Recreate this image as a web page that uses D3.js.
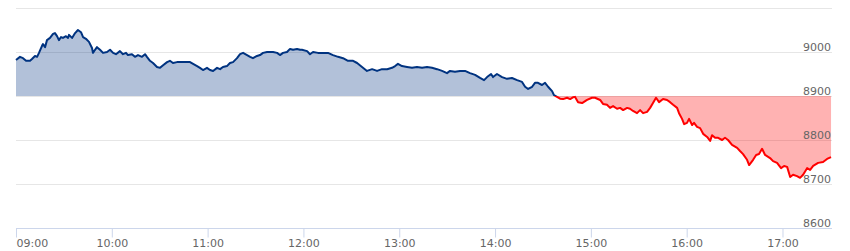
<!doctype html>
<html>
    <head>
        <script src="https://d3js.org/d3.v7.min.js"></script>
        <style>
            body { margin: 0; background: #fff; }
            svg { display: block; }
            .tick text { fill: #666; font-size: 11px; font-family: "DejaVu Sans", Verdana, sans-serif; }
        </style>
    </head>
    <body>
        <div id="viz">
            <svg style="width:850px;height:251px;"></svg>
        </div>

        <script>
            // minutes after 09:00 and index level
            var minutes = [0,2.5,4.4,6.3,8.8,10,11.9,13.2,14.4,16.3,16.9,18.2,19.4,21.3,23.2,24.4,25.7,26.9,28.2,29.4,
                31.3,32.6,33.2,35.1,37,38.8,40.7,42,43.8,45.7,47.6,48.2,49.5,50.7,52.6,54.5,57,58.9,60.8,62.6,
                65.1,67,68.9,70.1,72.6,74.5,76.4,78.9,80.8,82,83.9,85.8,88.3,90.2,92.1,94.6,96.4,98.3,100.8,102.7,
                104.6,107.1,109,110.9,113.4,115.2,117.1,119.6,121.5,123.4,125.9,127.8,129.6,132.1,134,135.9,138.4,140.3,142.2,144.7,
                146.6,148.4,150.9,152.8,154.7,157.2,159.1,161,163.5,165.3,167.2,169.7,171.6,173.5,176,177.9,179.1,182.3,184.1,186,
                189.1,192.3,195.4,198.5,201.7,204.8,207.9,211.1,213.6,216.7,219.8,223,226.1,229.2,232.4,235.5,237.4,239.2,241.7,244.9,
                248,251.1,254.3,257.4,260.5,263.7,266.8,269.9,271.8,274.9,278.1,281.2,284.3,287.5,290.6,293.1,295,297.5,298.7,301.2,
                304.4,307.5,310.6,313.8,316.9,318.8,320.7,323.2,325,326.9,329.4,331.3,333.2,335.7,336.9,338.8,340.7,342.6,345.1,347,
                348.8,350.1,352,354.5,357.6,360.7,362.6,365.8,367.6,370.1,372,373.9,376.4,378.3,380.2,382.7,384.5,386.4,388.9,390.8,
                392.7,395.2,397.1,398.9,400.8,402.7,405.2,407.7,409.6,411.5,414,415.2,417.1,418.4,420.2,421.5,423.4,424.6,426.5,428.4,
                430.3,432.8,434.7,435.9,437.8,439.7,442.2,444,445.9,448.4,451.6,453.4,455.3,457.8,459.1,461.6,463.5,465.3,467.2,469.1,
                472.2,474.1,476.6,479.1,481,482.9,484.8,486.6,489.1,491,492.9,495.4,497.3,499.2,502.3,505.4,507.9,510.4];
            var values = [8982,8989,8986,8980,8980,8984,8991,8989,8998,9014,9018,9011,9027,9032,9041,9043,9036,9027,9034,9032,
                9036,9032,9039,9032,9043,9050,9045,9034,9030,9023,9009,8998,9005,9011,9005,8998,9000,9005,8998,8995,
                9002,8995,8998,8993,8995,8989,8993,8989,8995,8989,8980,8975,8966,8964,8970,8977,8980,8975,8977,8977,
                8977,8977,8977,8973,8968,8964,8959,8964,8959,8957,8964,8961,8966,8968,8975,8977,8986,8995,8998,8993,
                8989,8986,8991,8993,8998,9000,9000,9000,8998,8993,8998,9000,9007,9005,9007,9005,9005,9002,8995,9000,
                8998,8998,8998,8993,8989,8986,8980,8980,8975,8966,8957,8961,8957,8961,8961,8964,8968,8973,8968,8966,
                8964,8966,8964,8966,8964,8961,8957,8952,8957,8955,8957,8957,8952,8948,8941,8936,8943,8950,8943,8950,
                8943,8939,8941,8936,8932,8921,8916,8921,8930,8930,8925,8930,8921,8911,8902,8898,8894,8893,8896,8893,
                8897,8898,8886,8884,8891,8896,8896,8891,8882,8880,8873,8877,8871,8873,8868,8873,8871,8866,8861,8868,
                8861,8864,8873,8884,8896,8886,8893,8891,8886,8880,8873,8861,8848,8836,8839,8848,8834,8839,8830,8827,
                8814,8807,8798,8811,8805,8805,8800,8805,8800,8789,8782,8775,8768,8755,8743,8755,8766,8768,8780,8766,
                8759,8752,8748,8736,8741,8739,8716,8721,8718,8714,8721,8736,8732,8741,8748,8750,8757,8761];

            var yTicks = [8600, 8700, 8800, 8900, 9000];
            var threshold = 8900;

            var t0 = new Date(2020, 0, 1, 9, 0);
            var data = minutes.map(function(m, i) {
                return { t: new Date(t0.getTime() + m * 60000), v: values[i] };
            });

            var svg = d3.select('svg');
            var plotLeft = 16, plotRight = 832, plotTop = 8, plotBottom = 228;

            var xScale = d3.scaleTime()
                .domain([t0, new Date(t0.getTime() + 511 * 60000)])
                .range([plotLeft, plotRight]);
            var yScale = d3.scaleLinear().domain([8600, 9100]).range([plotBottom, plotTop]);

            // grid lines
            svg.append('g').selectAll('line.grid')
                .data([8600, 8700, 8800, 8900, 9000, 9100])
                .enter()
                .append('line')
                    .attr('class', 'grid')
                    .attr('x1', plotLeft).attr('x2', plotRight)
                    .attr('y1', d => yScale(d) + 0.5).attr('y2', d => yScale(d) + 0.5)
                    .style('stroke', '#e6e6e6');

            // clip regions above / below threshold
            var defs = svg.append('defs');
            defs.append('clipPath').attr('id', 'above').append('rect')
                .attr('x', 0).attr('y', 0).attr('width', 850).attr('height', yScale(threshold));
            defs.append('clipPath').attr('id', 'below').append('rect')
                .attr('x', 0).attr('y', yScale(threshold)).attr('width', 850).attr('height', 251);

            var area = d3.area()
                .x(d => xScale(d.t))
                .y0(yScale(threshold))
                .y1(d => yScale(d.v));
            var line = d3.line()
                .x(d => xScale(d.t))
                .y(d => yScale(d.v));

            [['above', '#003380'], ['below', '#ff0000']].forEach(function(z) {
                var g = svg.append('g').attr('clip-path', 'url(#' + z[0] + ')');
                g.append('path').datum(data)
                    .attr('d', area)
                    .style('fill', z[1])
                    .style('fill-opacity', 0.3);
                g.append('path').datum(data)
                    .attr('d', line)
                    .style('fill', 'none')
                    .style('stroke', z[1])
                    .style('stroke-width', 2)
                    .style('stroke-linejoin', 'round');
            });

            // y axis labels on the right
            var yAxis = d3.axisLeft(yScale)
                .tickValues(yTicks)
                .tickSize(0)
                .tickPadding(0)
                .tickFormat(d3.format('d'));
            var yG = svg.append('g').attr('id', 'yAxisG')
                .attr('transform', 'translate(' + (plotRight - 1) + ',0)')
                .call(yAxis);
            yG.select('path.domain').remove();
            yG.selectAll('text').attr('dy', '-2');

            // x axis
            var xAxis = d3.axisBottom(xScale)
                .ticks(d3.timeHour.every(1))
                .tickSize(9)
                .tickPadding(2)
                .tickFormat(d3.timeFormat('%H:%M'));
            var xG = svg.append('g').attr('id', 'xAxisG')
                .attr('transform', 'translate(0,' + (plotBottom + 0.5) + ')')
                .call(xAxis);
            xG.select('path.domain')
                .attr('d', 'M' + plotLeft + ',0H' + plotRight)
                .style('stroke', '#ccd6eb');
            xG.selectAll('.tick line').style('stroke', '#ccd6eb');
            xG.selectAll('.tick text')
                .attr('text-anchor', (d, i) => i === 0 ? 'start' : 'middle');
        </script>
    </body>
</html>
